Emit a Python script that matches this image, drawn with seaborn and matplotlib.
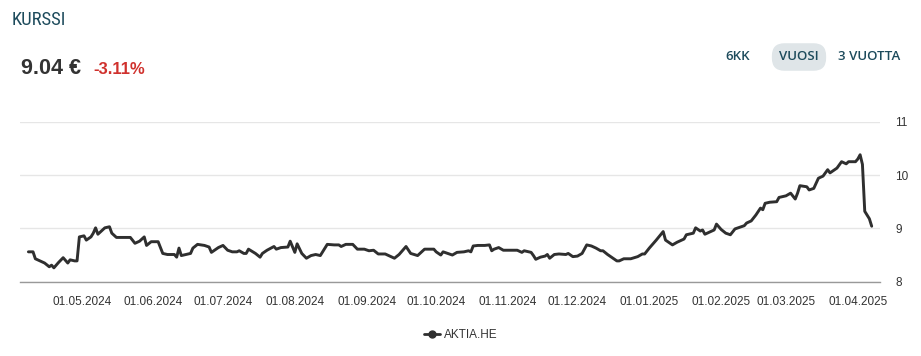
import pandas as pd
import matplotlib
matplotlib.use("Agg")
import matplotlib.pyplot as plt
import matplotlib.dates as mdates
from matplotlib.lines import Line2D
import seaborn as sns

# AKTIA.HE closing prices
dates = [
    "2024-04-08", "2024-04-10", "2024-04-11", "2024-04-13", "2024-04-15", "2024-04-17",
    "2024-04-18", "2024-04-19", "2024-04-21", "2024-04-23", "2024-04-25", "2024-04-26",
    "2024-04-28", "2024-04-29", "2024-04-30", "2024-05-02", "2024-05-03", "2024-05-05",
    "2024-05-06", "2024-05-07", "2024-05-08", "2024-05-10", "2024-05-11", "2024-05-13",
    "2024-05-14", "2024-05-16", "2024-05-18", "2024-05-22", "2024-05-24", "2024-05-26",
    "2024-05-28", "2024-05-29", "2024-05-31", "2024-06-03", "2024-06-05", "2024-06-07",
    "2024-06-10", "2024-06-11", "2024-06-12", "2024-06-13", "2024-06-15", "2024-06-17",
    "2024-06-18", "2024-06-20", "2024-06-23", "2024-06-25", "2024-06-26", "2024-06-28",
    "2024-06-29", "2024-07-01", "2024-07-03", "2024-07-05", "2024-07-07", "2024-07-08",
    "2024-07-10", "2024-07-11", "2024-07-12", "2024-07-15", "2024-07-17", "2024-07-18",
    "2024-07-20", "2024-07-23", "2024-07-24", "2024-07-26", "2024-07-29", "2024-07-30",
    "2024-08-01", "2024-08-02", "2024-08-04", "2024-08-06", "2024-08-08", "2024-08-10",
    "2024-08-12", "2024-08-13", "2024-08-15", "2024-08-18", "2024-08-20", "2024-08-21",
    "2024-08-23", "2024-08-26", "2024-08-28", "2024-08-31", "2024-09-02", "2024-09-04",
    "2024-09-06", "2024-09-09", "2024-09-11", "2024-09-13", "2024-09-15", "2024-09-18",
    "2024-09-20", "2024-09-23", "2024-09-26", "2024-09-30", "2024-10-01", "2024-10-03",
    "2024-10-04", "2024-10-06", "2024-10-08", "2024-10-10", "2024-10-13", "2024-10-15",
    "2024-10-16", "2024-10-17", "2024-10-19", "2024-10-22", "2024-10-24", "2024-10-25",
    "2024-10-26", "2024-10-28", "2024-10-30", "2024-11-02", "2024-11-05", "2024-11-07",
    "2024-11-08", "2024-11-11", "2024-11-12", "2024-11-13", "2024-11-15", "2024-11-17",
    "2024-11-18", "2024-11-19", "2024-11-21", "2024-11-23", "2024-11-26", "2024-11-27",
    "2024-11-29", "2024-12-01", "2024-12-03", "2024-12-05", "2024-12-07", "2024-12-09",
    "2024-12-11", "2024-12-12", "2024-12-14", "2024-12-16", "2024-12-18", "2024-12-19",
    "2024-12-21", "2024-12-24", "2024-12-27", "2024-12-29", "2024-12-30", "2025-01-01",
    "2025-01-04", "2025-01-07", "2025-01-08", "2025-01-09", "2025-01-11", "2025-01-13",
    "2025-01-15", "2025-01-16", "2025-01-17", "2025-01-20", "2025-01-21", "2025-01-23",
    "2025-01-24", "2025-01-25", "2025-01-27", "2025-01-29", "2025-01-30", "2025-02-01",
    "2025-02-03", "2025-02-05", "2025-02-07", "2025-02-09", "2025-02-11", "2025-02-12",
    "2025-02-14", "2025-02-16", "2025-02-18", "2025-02-19", "2025-02-20", "2025-02-22",
    "2025-02-25", "2025-02-26", "2025-03-01", "2025-03-03", "2025-03-05", "2025-03-06",
    "2025-03-07", "2025-03-10", "2025-03-11", "2025-03-13", "2025-03-15", "2025-03-17",
    "2025-03-19", "2025-03-20", "2025-03-23", "2025-03-25", "2025-03-27", "2025-03-28",
    "2025-03-31", "2025-04-01", "2025-04-02", "2025-04-03", "2025-04-04", "2025-04-06",
    "2025-04-07",
]
prices = [
    8.56, 8.56, 8.43, 8.39, 8.35, 8.28,
    8.31, 8.26, 8.36, 8.45, 8.35, 8.41,
    8.39, 8.39, 8.84, 8.86, 8.78, 8.84,
    8.91, 9.01, 8.89, 8.97, 9.01, 9.03,
    8.91, 8.83, 8.83, 8.83, 8.72, 8.76,
    8.84, 8.68, 8.75, 8.75, 8.53, 8.51,
    8.51, 8.46, 8.63, 8.49, 8.51, 8.53,
    8.63, 8.70, 8.68, 8.65, 8.55, 8.61,
    8.64, 8.68, 8.59, 8.56, 8.56, 8.58,
    8.53, 8.53, 8.61, 8.53, 8.46, 8.53,
    8.59, 8.66, 8.61, 8.64, 8.65, 8.76,
    8.55, 8.71, 8.53, 8.44, 8.49, 8.51,
    8.49, 8.56, 8.70, 8.69, 8.69, 8.66,
    8.70, 8.70, 8.61, 8.61, 8.58, 8.59,
    8.52, 8.52, 8.48, 8.44, 8.51, 8.66,
    8.53, 8.49, 8.61, 8.61, 8.56, 8.50,
    8.56, 8.53, 8.50, 8.55, 8.56, 8.58,
    8.56, 8.67, 8.68, 8.68, 8.69, 8.58,
    8.61, 8.64, 8.59, 8.59, 8.59, 8.55,
    8.58, 8.55, 8.49, 8.42, 8.46, 8.48,
    8.51, 8.44, 8.51, 8.52, 8.51, 8.53,
    8.47, 8.48, 8.53, 8.69, 8.67, 8.63,
    8.58, 8.58, 8.51, 8.45, 8.39, 8.39,
    8.43, 8.43, 8.47, 8.52, 8.52, 8.63,
    8.78, 8.94, 8.78, 8.75, 8.69, 8.74,
    8.78, 8.80, 8.88, 8.91, 9.01, 8.95,
    8.97, 8.89, 8.93, 8.97, 9.08, 8.98,
    8.91, 8.88, 8.99, 9.02, 9.05, 9.10,
    9.14, 9.25, 9.38, 9.35, 9.47, 9.49,
    9.50, 9.58, 9.61, 9.66, 9.55, 9.66,
    9.80, 9.78, 9.72, 9.75, 9.94, 9.98,
    10.10, 10.04, 10.13, 10.25, 10.21, 10.25,
    10.25, 10.30, 10.38, 10.20, 9.32, 9.18,
    9.04,
]
y_ticks = [8, 9, 10, 11]
ticker = "AKTIA.HE"
last_price = "9.04 €"
change = "-3.11%"
periods = ["6KK", "VUOSI", "3 VUOTTA"]

df = pd.DataFrame({"date": pd.to_datetime(dates), "close": prices})

sns.set_style("white")
plt.rcParams["font.family"] = ["Liberation Sans", "DejaVu Sans"]

fig = plt.figure(figsize=(9.21, 3.56), dpi=100)
ax = fig.add_axes([20 / 921, 1 - 281.7 / 356, 860 / 921, 160 / 356])

sns.lineplot(data=df, x="date", y="close", ax=ax, color="#2f2f2f", linewidth=2.1)

ax.set_xlim(pd.Timestamp("2024-04-04 09:00"), pd.Timestamp("2025-04-10 14:00"))
ax.set_ylim(8, 11)
ax.set_yticks(y_ticks)
ax.yaxis.tick_right()
ax.tick_params(axis="y", length=0, pad=11, labelsize=8.5, labelcolor="#333333")
ax.grid(axis="y", color="#e6e6e6", linewidth=1)
ax.xaxis.set_major_locator(mdates.MonthLocator(bymonthday=1))
ax.xaxis.set_major_formatter(mdates.DateFormatter("%d.%m.%Y"))
ax.tick_params(axis="x", direction="out", length=6, width=1, color="#999999",
               pad=4, labelsize=8.5, labelcolor="#333333")
ax.set_xlabel("")
ax.set_ylabel("")
for s in ["top", "right", "left"]:
    ax.spines[s].set_visible(False)
ax.spines["bottom"].set_color("#999999")
ax.spines["bottom"].set_linewidth(1)

# header texts
fig.text(12 / 921, 1 - 20 / 356, "KURSSI",
         family=["Roboto Condensed", "Liberation Sans Narrow", "Roboto"],
         fontstretch="condensed", fontsize=13.5, color="#1d4b5c", va="center", ha="left")
fig.text(21 / 921, 1 - 68 / 356, last_price, fontsize=15.5, fontweight="bold",
         color="#333333", va="center", ha="left")
fig.text(93 / 921, 1 - 69 / 356, change, fontsize=12, fontweight="bold",
         color="#d0312d", va="center", ha="left")

# period buttons
btn_font = dict(family=["Open Sans", "DejaVu Sans"], fontsize=9.5, fontweight="semibold",
                color="#1d4b5c", va="center", ha="center")
fig.text(738 / 921, 1 - 57 / 356, periods[0], **btn_font)
fig.text(799 / 921, 1 - 57 / 356, periods[1],
         bbox=dict(boxstyle="round,pad=0.55,rounding_size=0.95", fc="#dfe5e8", ec="none"),
         **btn_font)
fig.text(869 / 921, 1 - 57 / 356, periods[2], **btn_font)

handle = Line2D([], [], color="#2f2f2f", linewidth=2, marker="o", markersize=5)
fig.legend(handles=[handle], labels=[ticker], loc="center",
           bbox_to_anchor=(461 / 921, 1 - 335 / 356), frameon=False,
           handlelength=1.3, handletextpad=0.4, fontsize=8.5, labelcolor="#333333")

fig.savefig("out.png", dpi=100)
